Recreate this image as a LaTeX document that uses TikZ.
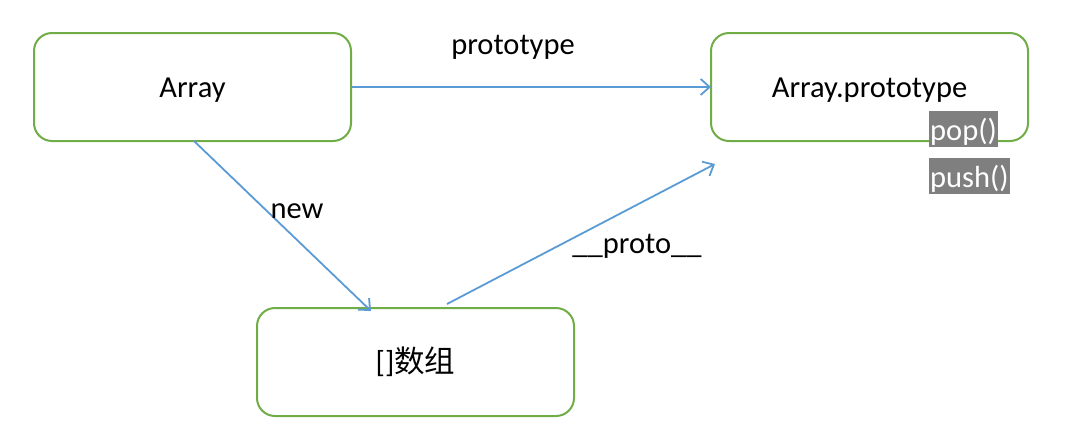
\documentclass[tikz,border=0pt]{standalone}
\usepackage{fontspec}
\setmainfont{Carlito}
\newfontfamily\cjk{Noto Sans CJK SC}
\usetikzlibrary{arrows.meta}
\definecolor{boxgreen}{HTML}{70AD47}
\definecolor{arrblue}{HTML}{5B9BD5}
\definecolor{tagray}{HTML}{7F7F7F}
\begin{document}
\begin{tikzpicture}[x=1pt,y=-1pt,
  objbox/.style={draw=boxgreen,line width=2pt,rounded corners=18pt,minimum width=317pt,minimum height=108pt,inner sep=0pt,text height=27.5pt,text depth=6.4pt,font=\fontsize{30.5}{34}\selectfont},
  link/.style={draw=arrblue,line width=1.8pt,-{Straight Barb[length=9pt,width=16pt,line width=1.8pt]}},
  lbl/.style={font=\fontsize{30.5}{34}\selectfont,inner sep=0pt},
  tag/.style={fill=tagray,text=white,font=\fontsize{30.5}{34}\selectfont,inner xsep=1pt,inner ysep=0pt,text height=29pt,text depth=7pt,anchor=west}]
\useasboundingbox (0,0) rectangle (1074,424);
\node[objbox] (arr) at (192.5,87) {Array};
\node[objbox] (proto) at (869.5,87) {Array.prototype};
\node[objbox] (inst) at (415.5,362) {[]{\cjk 数组}};
\coordinate (arrR) at (351,87);
\coordinate (protoL) at (711,87);
\coordinate (newS) at (194,141);
\coordinate (newE) at (371,311);
\coordinate (pS) at (447,304);
\coordinate (pE) at (715,164);
\draw[link] (arrR) -- (protoL);
\draw[link] (newS) -- (newE);
\draw[link] (pS) -- (pE);
\node[lbl] (lp) at (513,47) {prototype};
\node[lbl] (ln) at (297,211) {new};
\node[lbl] (lpp) at (637,246) {\_\_proto\_\_};
\node[tag] (pop) at (929,129) {pop()};
\node[tag] (push) at (929,176) {push()};
\end{tikzpicture}
\end{document}
